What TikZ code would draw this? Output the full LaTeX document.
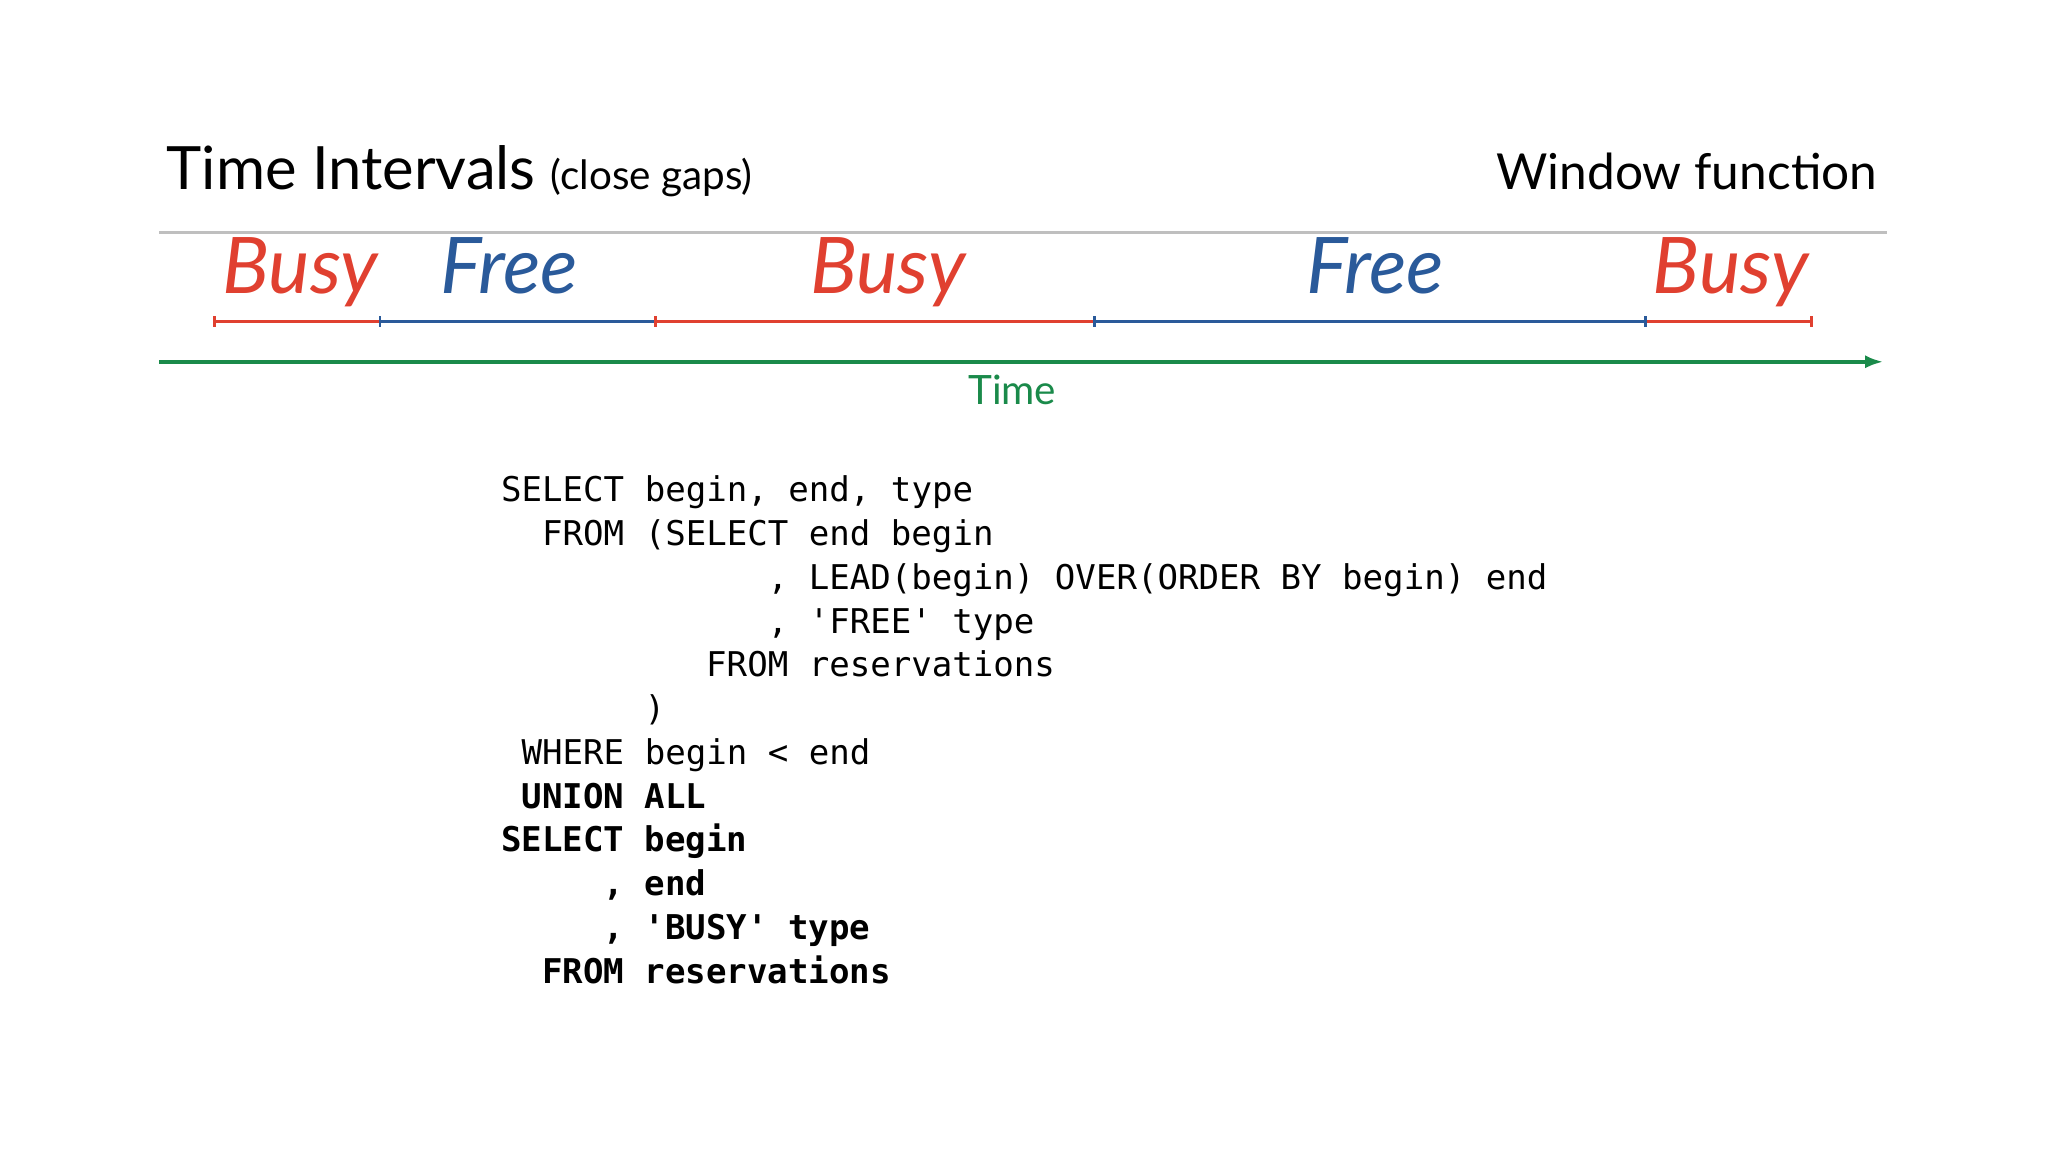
\documentclass[tikz,border=0pt]{standalone}
\usetikzlibrary{arrows.meta}
\usepackage{fontspec}
\setmainfont{Lato}
\setmonofont{DejaVu Sans Mono}
\definecolor{busyc}{HTML}{E04030}
\definecolor{freec}{HTML}{2A5A9A}
\definecolor{timec}{HTML}{1A8A4A}
\begin{document}
\begin{tikzpicture}[x=0.01cm,y=-0.01cm,
  hand/.style={font=\fontsize{17}{20}\selectfont\itshape\rmfamily, anchor=base},
  code/.style={anchor=base west, inner sep=0, font=\fontsize{7.42}{9}\selectfont\ttfamily},
  bcode/.style={code, font=\fontsize{7.42}{9}\selectfont\ttfamily\bfseries}]
\useasboundingbox (0,0) rectangle (1568,882);
\node[anchor=base west, inner sep=0, font=\fontsize{13}{16}\selectfont] (title) at (127,145) {Time Intervals \fontsize{8.8}{11}\selectfont(close gaps)};
\node[anchor=base east, inner sep=0, font=\fontsize{10.8}{13}\selectfont] (win) at (1438,145) {Window function};
\coordinate (gl) at (122,178); \coordinate (gr) at (1445,178);
\draw[gray!50, line width=0.6pt] (gl) -- (gr);
% intervals
\foreach \n/\x in {a/164,b/291,c/502,d/838,e/1260,f/1387}{\coordinate (\n) at (\x,246);}
\draw[busyc, line width=0.6pt] (a) -- (b);
\draw[freec, line width=0.6pt] (b) -- (c);
\draw[busyc, line width=0.6pt] (c) -- (d);
\draw[freec, line width=0.6pt] (d) -- (e);
\draw[busyc, line width=0.6pt] (e) -- (f);
\foreach \n/\c in {a/busyc,b/freec,c/busyc,d/freec,e/freec,f/busyc}{\draw[\c, line width=0.6pt] ([yshift=0.04cm]\n) -- ([yshift=-0.04cm]\n);}
\node[hand, text=busyc] (b1) at (230,225) {Busy};
\node[hand, text=freec] (f1) at (390,225) {Free};
\node[hand, text=busyc] (b2) at (680,225) {Busy};
\node[hand, text=freec] (f2) at (1053,225) {Free};
\node[hand, text=busyc] (b3) at (1325,225) {Busy};
% time axis
\coordinate (tl) at (122,277); \coordinate (tr) at (1442,277);
\draw[timec, line width=0.8pt, -{Latex[length=0.14cm,width=0.1cm]}] (tl) -- (tr);
\node[anchor=base, text=timec, font=\fontsize{8.8}{11}\selectfont] (time) at (775,310) {Time};
% code
\def\cw{15.7}
\node[code] (l1) at (383,384) {SELECT begin, end, type};
\node[code] (l2) at (383+2*\cw,418) {FROM (SELECT end begin};
\node[code] (l3) at (383+13*\cw,451) {, LEAD(begin) OVER(ORDER BY begin) end};
\node[code] (l4) at (383+13*\cw,485) {, 'FREE' type};
\node[code] (l5) at (383+10*\cw,518) {FROM reservations};
\node[code] (l6) at (383+7*\cw,552) {)};
\node[code] (l7) at (383+1*\cw,585) {WHERE begin < end};
\node[bcode] (l8) at (383+1*\cw,619) {UNION ALL};
\node[bcode] (l9) at (383,652) {SELECT begin};
\node[bcode] (l10) at (383+5*\cw,686) {, end};
\node[bcode] (l11) at (383+5*\cw,719) {, 'BUSY' type};
\node[bcode] (l12) at (383+2*\cw,753) {FROM reservations};
\end{tikzpicture}
\end{document}
